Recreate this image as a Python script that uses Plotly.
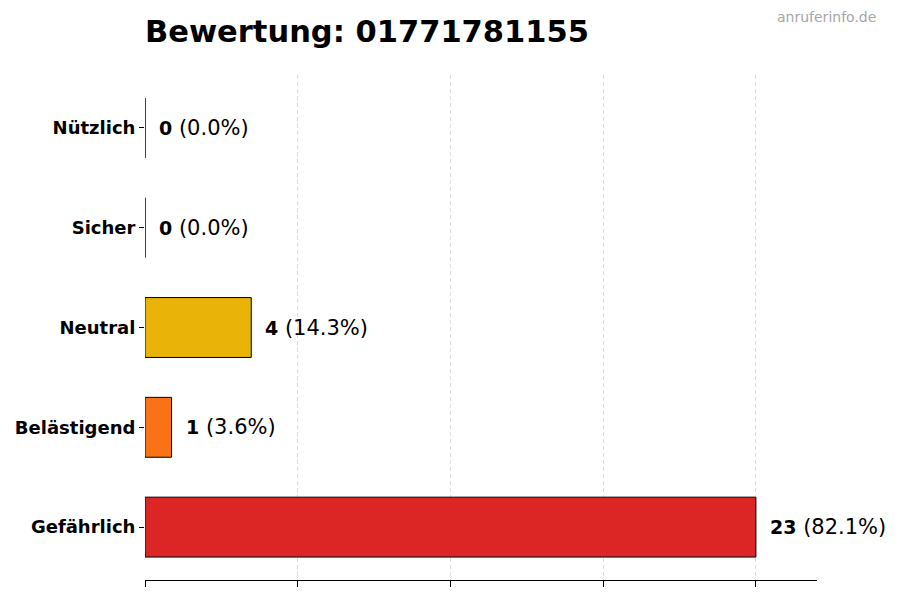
import plotly.graph_objects as go

# bottom to top, as drawn
categories = ['Gefährlich', 'Belästigend', 'Neutral', 'Sicher', 'Nützlich']
counts = [23, 1, 4, 0, 0]
colors = ['#DC2626', '#F97316', '#EAB308', '#22C55E', '#16A34A']
title_text = 'Bewertung: 01771781155'
watermark = 'anruferinfo.de'

total = sum(counts)
pcts = [c / total * 100 for c in counts]
top = max(counts)
grid_vals = [top * i / 4 for i in range(5)]

fig = go.Figure()
fig.add_trace(go.Bar(
    x=counts, y=categories, orientation='h', width=0.6,
    marker=dict(color=colors, line=dict(color='black', width=1)),
    hoverinfo='skip',
))

for cat, c, p in zip(categories, counts, pcts):
    fig.add_annotation(
        x=c, y=cat, xref='x', yref='y', xanchor='left', yanchor='middle',
        xshift=12, showarrow=False,
        text='<span style="font-size:19px"><b>{}</b></span> ({:.1f}%)'.format(c, p),
        font=dict(size=21, color='black'),
    )

fig.add_annotation(
    x=1.0908, y=1.115, xref='paper', yref='paper', xanchor='right', yanchor='middle',
    showarrow=False, text=watermark, font=dict(size=14, color='#A6A6A6'),
)

# page body adds 8px offset, margins compensate
fig.update_layout(
    width=900, height=600,
    margin=dict(l=137, r=91, t=67, b=28),
    paper_bgcolor='white', plot_bgcolor='white',
    font=dict(family='DejaVu Sans', color='black'),
    showlegend=False,
    title=dict(text='<b>' + title_text + '</b>', x=0, xref='paper', xanchor='left',
               y=1 - 23 / 600, yref='container', yanchor='middle',
               font=dict(size=30.5, color='black')),
    xaxis=dict(range=[0, top * 1.1], tickvals=grid_vals, showticklabels=False,
               ticks='outside', ticklen=6, tickcolor='black',
               showline=True, linecolor='black', linewidth=1,
               showgrid=True, gridcolor='#DDDDDD', griddash='4px,3px', gridwidth=1,
               zeroline=False, fixedrange=True, automargin=False),
    yaxis=dict(range=[-0.53, 4.53], ticks='outside', ticklen=5, tickcolor='black',
               showline=False, showgrid=False, zeroline=False, automargin=False,
               tickfont=dict(size=18, color='black', weight='bold'), fixedrange=True),
)

fig.write_html('out.html')
